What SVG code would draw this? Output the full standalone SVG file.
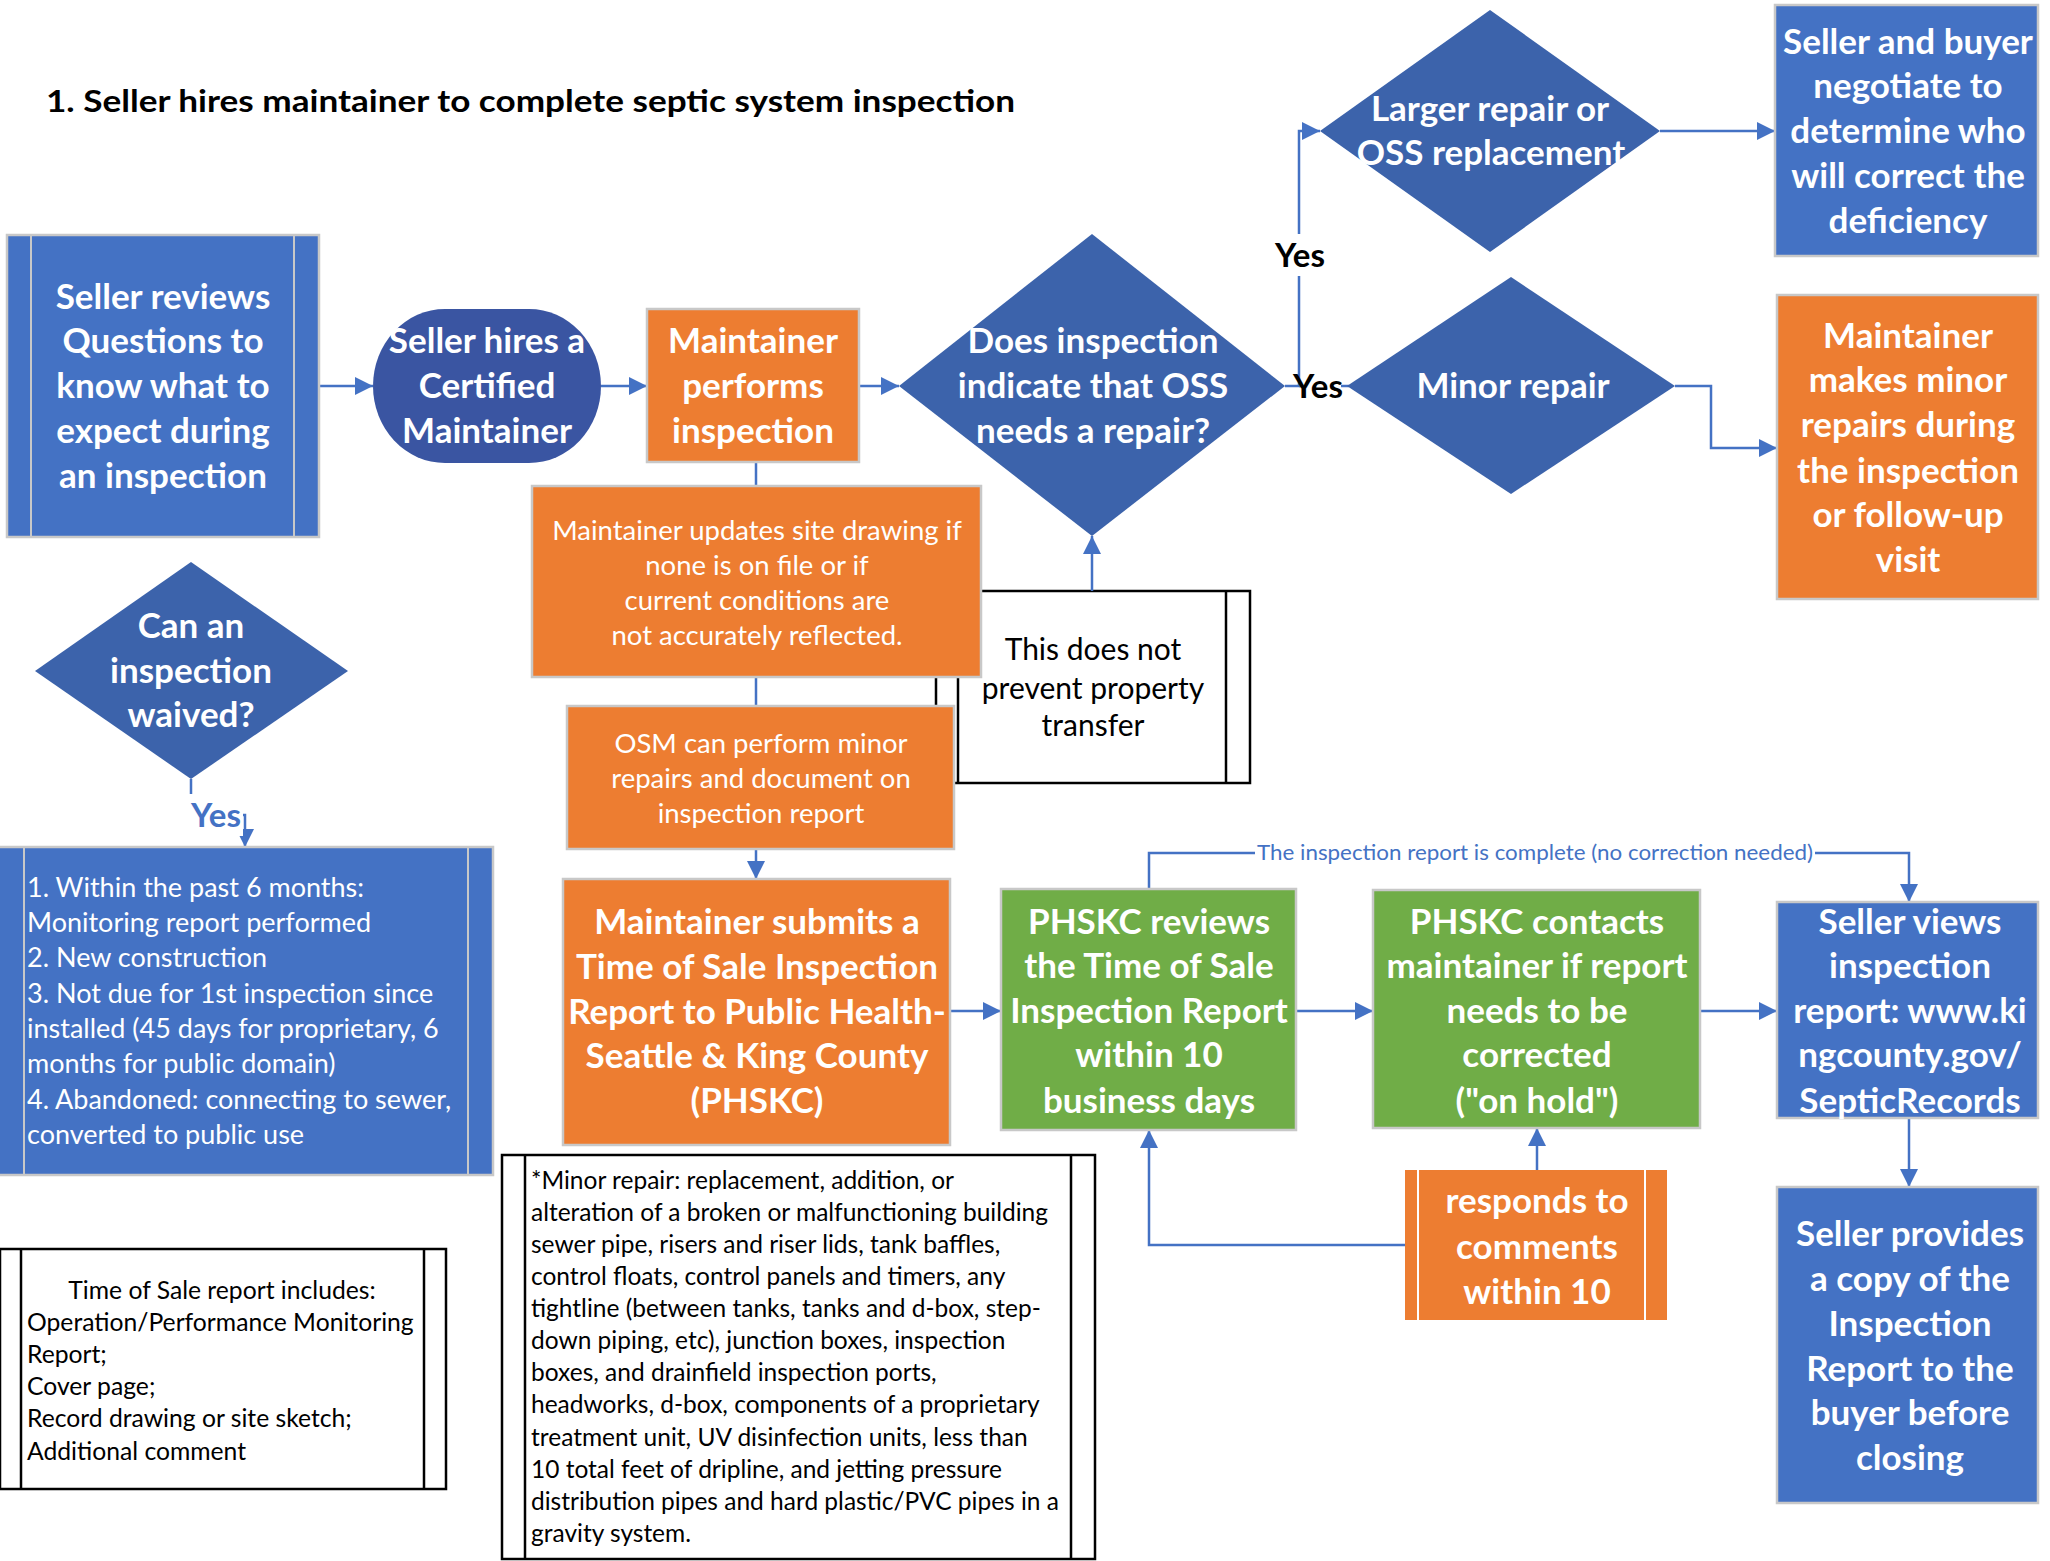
<svg xmlns="http://www.w3.org/2000/svg" width="2050" height="1561" viewBox="0 0 2050 1561">
<defs>
<marker id="ah" markerUnits="userSpaceOnUse" markerWidth="18" markerHeight="18" refX="18" refY="9" orient="auto"><path d="M0,0 L18,9 L0,18 z" fill="#4472C4"/></marker>
<style>
text{font-family:Lato,"Open Sans","Liberation Sans",sans-serif}
.big{font-size:35px;font-weight:bold;fill:#fff;text-anchor:middle}
.med{font-size:27.5px;fill:#fff;text-anchor:middle}
.list{font-size:27px;fill:#fff}
.blk{font-size:24.7px;fill:#000}
.note{font-size:24.5px;fill:#000}
.yes{font-size:33px;font-weight:bold;fill:#000;text-anchor:middle}
.blue{fill:#4472C4;stroke:#C8C8C8;stroke-width:2.5}
.org{fill:#ED7D31;stroke:#C8C8C8;stroke-width:2.5}
.grn{fill:#70AD47;stroke:#C8C8C8;stroke-width:2.5}
.dia{fill:#3C63AB}
.wbox{fill:#fff;stroke:#000;stroke-width:2.5}
.inner{stroke:#C8C8C8;stroke-width:2}
.conn path{fill:none;stroke:#4472C4;stroke-width:2.5}
</style>
</defs>
<rect width="2050" height="1561" fill="#fff"/>

<text x="46" y="112" font-size="31" font-weight="bold" fill="#000" textLength="969" lengthAdjust="spacingAndGlyphs">1. Seller hires maintainer to complete septic system inspection</text>

<g id="n-transfer">
<rect class="wbox" x="936" y="591" width="314" height="192"/>
<line x1="958" y1="591" x2="958" y2="783" stroke="#000" stroke-width="2.5"/>
<line x1="1226" y1="591" x2="1226" y2="783" stroke="#000" stroke-width="2.5"/>
<text x="1093" y="660" font-size="30" fill="#000" text-anchor="middle">This does not</text>
<text x="1093" y="699" font-size="30" fill="#000" text-anchor="middle">prevent property</text>
<text x="1093" y="736" font-size="30" fill="#000" text-anchor="middle">transfer</text>
</g>

<g class="conn" id="connectors">
<path d="M319,386 H373" marker-end="url(#ah)"/>
<path d="M601,386 H647" marker-end="url(#ah)"/>
<path d="M859,386 H899" marker-end="url(#ah)"/>
<path d="M1285,386 H1299 V131 H1320" marker-end="url(#ah)"/>
<path d="M1299,386 H1349"/>
<path d="M1660,131 H1775" marker-end="url(#ah)"/>
<path d="M1675,386 H1711 V448 H1777" marker-end="url(#ah)"/>
<path d="M756,462 V486"/>
<path d="M756,677 V706"/>
<path d="M756,849 V879" marker-end="url(#ah)"/>
<path d="M1092,591 V536" marker-end="url(#ah)"/>
<path d="M950,1011 H1001" marker-end="url(#ah)"/>
<path d="M1296,1011 H1373" marker-end="url(#ah)"/>
<path d="M1700,1011 H1777" marker-end="url(#ah)"/>
<path d="M1149,889 V853 H1909 V902" marker-end="url(#ah)"/>
<path d="M1909,1118 V1187" marker-end="url(#ah)"/>
<path d="M1537,1170 V1128" marker-end="url(#ah)"/>
<path d="M1405,1245 H1149 V1130" marker-end="url(#ah)"/>
<path d="M191,779 V815 H245 V847" marker-end="url(#ah)"/>
<rect x="1274" y="234" width="52" height="42" fill="#fff"/>
<text class="yes" x="1300" y="267">Yes</text>
<rect x="1301" y="368" width="40" height="36" fill="#fff"/>
<text class="yes" x="1318" y="398">Yes</text>
<rect x="188" y="794" width="55" height="42" fill="#fff"/>
<text class="yes" x="216" y="827" style="fill:#4472C4">Yes</text>
<rect x="1255" y="840" width="560" height="26" fill="#fff"/>
<text x="1535" y="860" font-size="21.5" fill="#4472C4" text-anchor="middle" textLength="556" lengthAdjust="spacingAndGlyphs">The inspection report is complete (no correction needed)</text>
</g>

<g id="n-reviews">
<rect class="blue" x="7" y="235" width="312" height="302"/>
<line class="inner" x1="31" y1="235" x2="31" y2="537"/>
<line class="inner" x1="294" y1="235" x2="294" y2="537"/>
<text class="big" x="163" y="309">Seller reviews</text>
<text class="big" x="163" y="353">Questions to</text>
<text class="big" x="163" y="398">know what to</text>
<text class="big" x="163" y="443">expect during</text>
<text class="big" x="163" y="488">an inspection</text>
</g>

<g id="n-hires">
<rect x="373" y="309" width="228" height="154" rx="72" ry="77" fill="#3A55A2"/>
<text class="big" x="487" y="353">Seller hires a</text>
<text class="big" x="487" y="398">Certified</text>
<text class="big" x="487" y="443">Maintainer</text>
</g>

<g id="n-performs">
<rect class="org" x="647" y="309" width="212" height="153"/>
<text class="big" x="753" y="353">Maintainer</text>
<text class="big" x="753" y="398">performs</text>
<text class="big" x="753" y="443">inspection</text>
</g>

<g id="n-needs-repair">
<path class="dia" d="M1092,234 L1285,386 L1092,536 L899,386 z"/>
<text class="big" x="1093" y="353">Does inspection</text>
<text class="big" x="1093" y="398">indicate that OSS</text>
<text class="big" x="1093" y="443">needs a repair?</text>
</g>

<g id="n-larger">
<path class="dia" d="M1490,10 L1660,131 L1490,252 L1320,131 z"/>
<text class="big" x="1490" y="121">Larger repair or</text>
<text class="big" x="1491" y="165">OSS replacement</text>
</g>

<g id="n-minor">
<path class="dia" d="M1511,277 L1675,386 L1511,494 L1347,386 z"/>
<text class="big" x="1513" y="398">Minor repair</text>
</g>

<g id="n-negotiate">
<rect class="blue" x="1775" y="5" width="263" height="251"/>
<text class="big" x="1908" y="54">Seller and buyer</text>
<text class="big" x="1908" y="98">negotiate to</text>
<text class="big" x="1908" y="143">determine who</text>
<text class="big" x="1908" y="188">will correct the</text>
<text class="big" x="1908" y="233">deficiency</text>
</g>

<g id="n-makes-minor">
<rect class="org" x="1777" y="295" width="261" height="304"/>
<text class="big" x="1908" y="348">Maintainer</text>
<text class="big" x="1908" y="392">makes minor</text>
<text class="big" x="1908" y="437">repairs during</text>
<text class="big" x="1908" y="483">the inspection</text>
<text class="big" x="1908" y="527">or follow-up</text>
<text class="big" x="1908" y="572">visit</text>
</g>

<g id="n-updates">
<rect class="org" x="532" y="486" width="449" height="191"/>
<text class="med" x="757" y="540">Maintainer updates site drawing if</text>
<text class="med" x="757" y="575">none is on file or if</text>
<text class="med" x="757" y="610">current conditions are</text>
<text class="med" x="757" y="645">not accurately reflected.</text>
</g>

<g id="n-osm">
<rect class="org" x="567" y="706" width="387" height="143"/>
<text class="med" x="761" y="753">OSM can perform minor</text>
<text class="med" x="761" y="788">repairs and document on</text>
<text class="med" x="761" y="823">inspection report</text>
</g>

<g id="n-submits">
<rect class="org" x="563" y="879" width="387" height="266"/>
<text class="big" x="757" y="934">Maintainer submits a</text>
<text class="big" x="757" y="979">Time of Sale Inspection</text>
<text class="big" x="757" y="1024">Report to Public Health-</text>
<text class="big" x="757" y="1068">Seattle &amp; King County</text>
<text class="big" x="757" y="1113">(PHSKC)</text>
</g>

<g id="n-reviews-report">
<rect class="grn" x="1001" y="889" width="295" height="241"/>
<text class="big" x="1149" y="934">PHSKC reviews</text>
<text class="big" x="1149" y="978">the Time of Sale</text>
<text class="big" x="1149" y="1023">Inspection Report</text>
<text class="big" x="1149" y="1067">within 10</text>
<text class="big" x="1149" y="1113">business days</text>
</g>

<g id="n-contacts">
<rect class="grn" x="1373" y="890" width="327" height="238"/>
<text class="big" x="1537" y="934">PHSKC contacts</text>
<text class="big" x="1537" y="978">maintainer if report</text>
<text class="big" x="1537" y="1023">needs to be</text>
<text class="big" x="1537" y="1067">corrected</text>
<text class="big" x="1537" y="1113">("on hold")</text>
</g>

<g id="n-views">
<rect class="blue" x="1777" y="902" width="261" height="216"/>
<text class="big" x="1910" y="934">Seller views</text>
<text class="big" x="1910" y="978">inspection</text>
<text class="big" x="1910" y="1023">report:  www.ki</text>
<text class="big" x="1910" y="1067">ngcounty.gov/</text>
<text class="big" x="1910" y="1113">SepticRecords</text>
</g>

<g id="n-provides">
<rect class="blue" x="1777" y="1187" width="261" height="316"/>
<text class="big" x="1910" y="1246">Seller provides</text>
<text class="big" x="1910" y="1291">a copy of the</text>
<text class="big" x="1910" y="1336">Inspection</text>
<text class="big" x="1910" y="1381">Report to the</text>
<text class="big" x="1910" y="1425">buyer before</text>
<text class="big" x="1910" y="1470">closing</text>
</g>

<g id="n-responds">
<rect x="1405" y="1170" width="262" height="150" fill="#ED7D31"/>
<line x1="1418" y1="1170" x2="1418" y2="1320" stroke="#fff" stroke-width="2"/>
<line x1="1645" y1="1170" x2="1645" y2="1320" stroke="#fff" stroke-width="2"/>
<text class="big" x="1537" y="1213">responds to</text>
<text class="big" x="1537" y="1259">comments</text>
<text class="big" x="1537" y="1304">within 10</text>
</g>

<g id="n-waived">
<path class="dia" d="M191,562 L348,671 L191,779 L35,671 z"/>
<text class="big" x="191" y="638">Can an</text>
<text class="big" x="191" y="683">inspection</text>
<text class="big" x="191" y="727">waived?</text>
</g>

<g id="n-waiver-list">
<rect class="blue" x="-2" y="847" width="495" height="328"/>
<line class="inner" x1="24" y1="847" x2="24" y2="1175"/>
<line class="inner" x1="468" y1="847" x2="468" y2="1175"/>
<text class="list" x="27" y="897">1. Within the past 6 months:</text>
<text class="list" x="27" y="932">Monitoring report performed</text>
<text class="list" x="27" y="967">2. New construction</text>
<text class="list" x="27" y="1003">3. Not due for 1st inspection since</text>
<text class="list" x="27" y="1038">installed (45 days for proprietary, 6</text>
<text class="list" x="27" y="1073">months for public domain)</text>
<text class="list" x="27" y="1109">4. Abandoned: connecting to sewer,</text>
<text class="list" x="27" y="1144">converted to public use</text>
</g>

<g id="n-tos-includes">
<rect class="wbox" x="0" y="1249" width="446" height="240"/>
<line x1="21" y1="1249" x2="21" y2="1489" stroke="#000" stroke-width="2.5"/>
<line x1="424" y1="1249" x2="424" y2="1489" stroke="#000" stroke-width="2.5"/>
<text class="blk" x="222" y="1299" text-anchor="middle">Time of Sale report includes:</text>
<text class="blk" x="27" y="1331">Operation/Performance Monitoring</text>
<text class="blk" x="27" y="1363">Report;</text>
<text class="blk" x="27" y="1395">Cover page;</text>
<text class="blk" x="27" y="1427">Record drawing or site sketch;</text>
<text class="blk" x="27" y="1460">Additional comment</text>
</g>

<g id="n-minor-def">
<rect class="wbox" x="502" y="1155" width="593" height="404"/>
<line x1="525" y1="1155" x2="525" y2="1559" stroke="#000" stroke-width="2.5"/>
<line x1="1071" y1="1155" x2="1071" y2="1559" stroke="#000" stroke-width="2.5"/>
<text class="note" x="531" y="1189">*Minor repair: replacement, addition, or</text>
<text class="note" x="531" y="1221">alteration of a broken or malfunctioning building</text>
<text class="note" x="531" y="1253">sewer pipe, risers and riser lids, tank baffles,</text>
<text class="note" x="531" y="1285">control floats, control panels and timers, any</text>
<text class="note" x="531" y="1317">tightline (between tanks, tanks and d-box, step-</text>
<text class="note" x="531" y="1349">down piping, etc), junction boxes, inspection</text>
<text class="note" x="531" y="1381">boxes, and drainfield inspection ports,</text>
<text class="note" x="531" y="1413">headworks, d-box, components of a proprietary</text>
<text class="note" x="531" y="1446">treatment unit, UV disinfection units, less than</text>
<text class="note" x="531" y="1478">10 total feet of dripline, and jetting pressure</text>
<text class="note" x="531" y="1510">distribution pipes and hard plastic/PVC pipes in a</text>
<text class="note" x="531" y="1542">gravity system.</text>
</g>
</svg>
